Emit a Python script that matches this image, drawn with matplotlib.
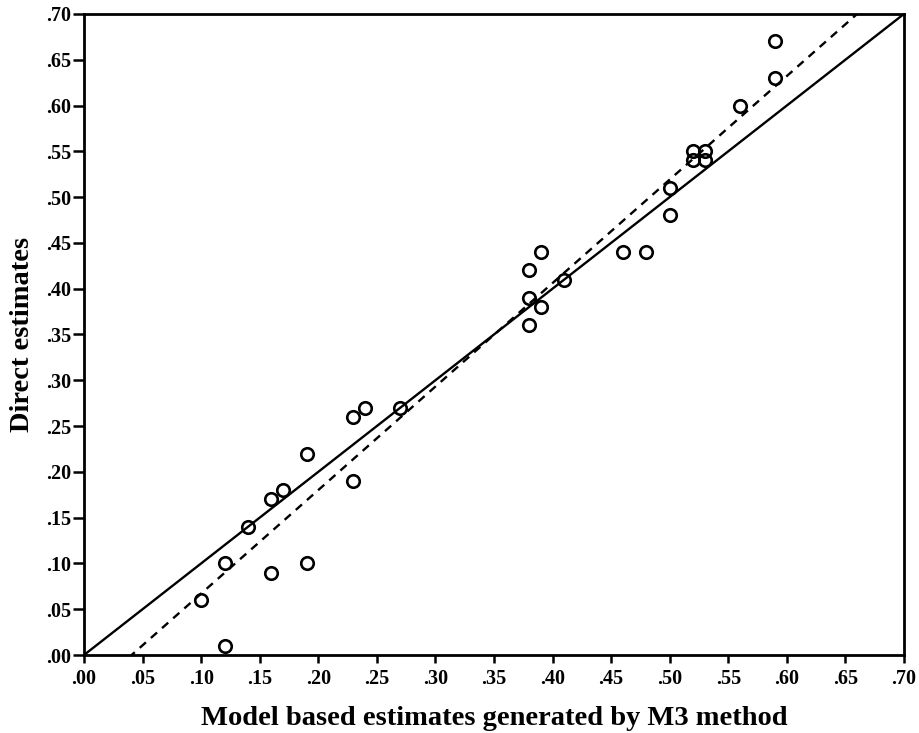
import numpy as np
import matplotlib
matplotlib.use("Agg")
import matplotlib.pyplot as plt
from matplotlib.ticker import MultipleLocator, FuncFormatter

# model based estimates (M3) vs direct estimates
model_est = [0.10, 0.12, 0.12, 0.14, 0.16, 0.16, 0.17, 0.19, 0.19, 0.23,
             0.23, 0.24, 0.27, 0.38, 0.38, 0.38, 0.39, 0.39, 0.41, 0.46,
             0.48, 0.50, 0.50, 0.52, 0.52, 0.53, 0.53, 0.56, 0.59, 0.59]
direct_est = [0.06, 0.10, 0.01, 0.14, 0.17, 0.09, 0.18, 0.22, 0.10, 0.26,
              0.19, 0.27, 0.27, 0.42, 0.39, 0.36, 0.44, 0.38, 0.41, 0.44,
              0.44, 0.51, 0.48, 0.55, 0.54, 0.55, 0.54, 0.60, 0.67, 0.63]

x = np.array(model_est)
y = np.array(direct_est)
slope, intercept = np.polyfit(x, y, 1)

plt.rcParams["font.family"] = ["Liberation Serif", "DejaVu Serif"]
plt.rcParams["font.weight"] = "bold"

fig = plt.figure(figsize=(9.2, 7.33), dpi=100)
ax = fig.add_axes([0.0913, 0.1064, 0.8913, 0.8746])

lim = np.array([0.0, 0.70])
ax.plot(lim, lim, color="black", lw=1.7, zorder=2)
ax.plot(lim, intercept + slope * lim, color="black", lw=1.7,
        dashes=(3.5, 2.8), zorder=2)
ax.plot(x, y, linestyle="none", marker="o", markersize=9,
        markerfacecolor="none", markeredgecolor="black",
        markeredgewidth=1.9, zorder=3)

ax.set_xlim(0, 0.70)
ax.set_ylim(0, 0.70)
ax.xaxis.set_major_locator(MultipleLocator(0.05))
ax.yaxis.set_major_locator(MultipleLocator(0.05))
fmt = FuncFormatter(lambda v, p: ("%.2f" % v)[1:] if v >= 0 else "%.2f" % v)
ax.xaxis.set_major_formatter(fmt)
ax.yaxis.set_major_formatter(fmt)

for s in ax.spines.values():
    s.set_linewidth(2.0)
ax.tick_params(axis="x", length=6, width=1.8, pad=4, labelsize=14.5)
ax.tick_params(axis="y", length=8, width=1.8, pad=1, labelsize=14.5)
for lbl in ax.get_xticklabels() + ax.get_yticklabels():
    lbl.set_fontweight("bold")

ax.set_xlabel("Model based estimates generated by M3 method",
              fontsize=20.5, fontweight="bold", labelpad=12)
ax.set_ylabel("Direct estimates", fontsize=20.5, fontweight="bold", labelpad=8)

fig.savefig("out.png", dpi=100)
